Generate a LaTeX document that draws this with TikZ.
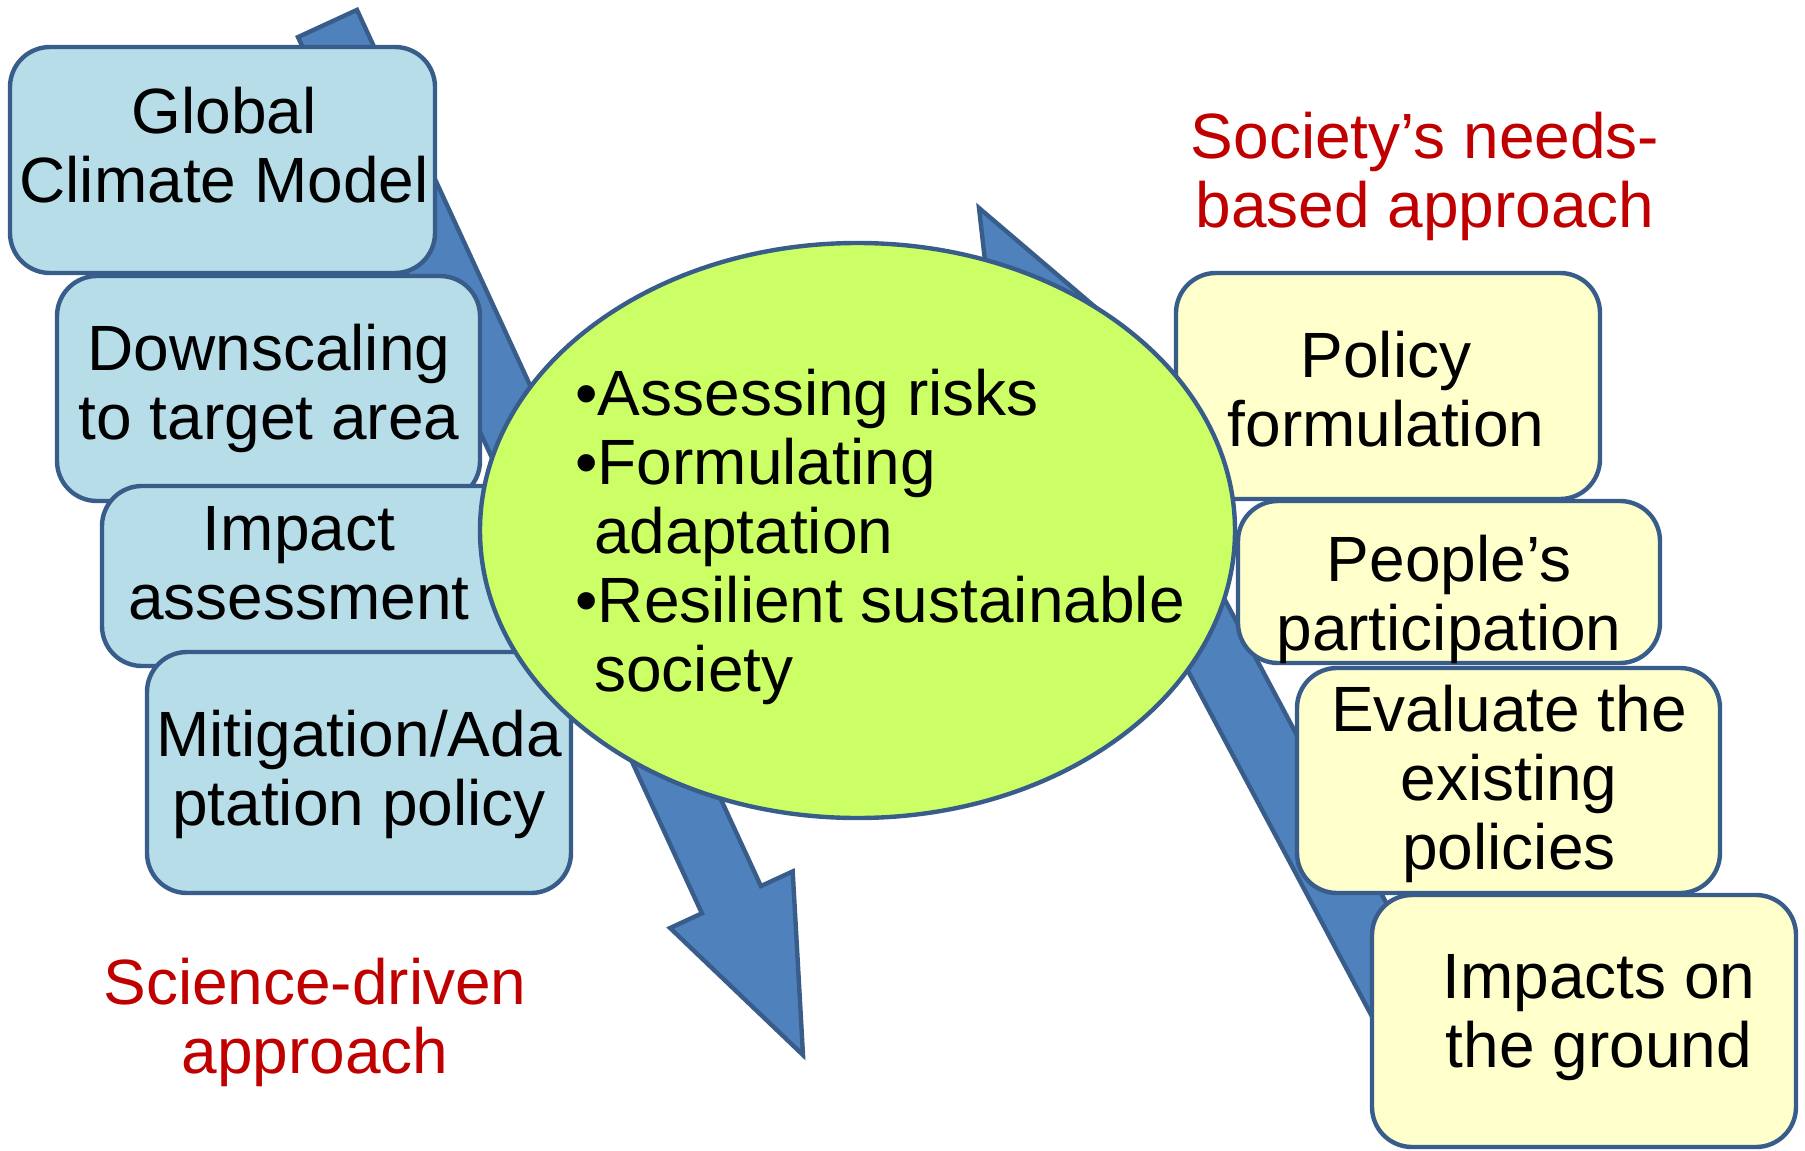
\documentclass[tikz,border=0pt]{standalone}
\usepackage{fontspec}
\setmainfont{Liberation Sans}
\usepackage{tikz}

\definecolor{edgeblue}{HTML}{385D8A}
\definecolor{arrowblue}{HTML}{4F81BD}
\definecolor{scibox}{HTML}{B7DEE8}
\definecolor{socbox}{HTML}{FFFFCC}
\definecolor{corefill}{HTML}{CCFF66}
\definecolor{darkred}{HTML}{C00000}

\begin{document}
\begin{tikzpicture}[x=0.5pt, y=-0.5pt,
        sci/.style={draw=edgeblue, fill=scibox, line width=2.2pt, rounded corners=20pt},
        soc/.style={draw=edgeblue, fill=socbox, line width=2.2pt, rounded corners=20pt},
        bigarrow/.style={draw=edgeblue, fill=arrowblue, line width=2.2pt},
        txt/.style={inner sep=0pt, align=center, font=\fontsize{32}{34.5}\selectfont}]
        \useasboundingbox (0,0) rectangle (1805,1151);
        \draw[bigarrow] (803,1055) -- (792.7,871.4) -- (760.9,886.1) -- (357,9.9)
                -- (298,37.1) -- (701.9,913.3) -- (670.1,928) -- cycle;
        \draw[bigarrow] (979,208) -- (1118.9,327.3) -- (1088.4,343.5) -- (1478.1,1075.5)
                -- (1419.9,1106.5) -- (1030.2,374.5) -- (999.7,390.7) -- cycle;
        \draw[sci] (10,47) rectangle (435,273);
        \draw[sci] (57,276) rectangle (480,501);
        \draw[sci] (102,486) rectangle (525,666);
        \draw[sci] (147,652) rectangle (571,893);
        \draw[soc] (1176,273) rectangle (1600,499);
        \draw[soc] (1238,501) rectangle (1660,663);
        \draw[soc] (1297,668) rectangle (1720,893);
        \draw[soc] (1372,895) rectangle (1796,1147);
        \draw[draw=edgeblue, fill=corefill, line width=2.2pt] (857.5,530.5) ellipse [x radius=188.75pt, y radius=143.75pt];
        \node[txt] (gcm) at (224,145) {Global\\Climate Model};
        \node[txt] (downscale) at (269,388) {Downscaling\\to target area};
        \node[txt] (impact) at (299,563) {Impact\\assessment};
        \node[txt] (mitig) at (359,774) {Mitigation/Ada\\ptation policy};
        \node[txt] (policy) at (1386,389) {Policy\\formulation};
        \node[txt] (people) at (1449,599) {People’s\\participation};
        \node[txt] (evaluate) at (1509,784) {Evaluate the\\existing\\policies};
        \node[txt] (ground) at (1599,1018) {Impacts on\\the ground};
        \node[txt, align=left, anchor=west] (core) at (575,537) {\textbullet Assessing risks\\
                \textbullet Formulating\\\hspace*{9.5pt}adaptation\\
                \textbullet Resilient sustainable\\\hspace*{9.5pt}society};
        \node[txt, text=darkred] (society) at (1425,176) {Society’s needs-\\based approach};
        \node[txt, text=darkred] (science) at (315,1022) {Science-driven\\approach};
\end{tikzpicture}
\end{document}
